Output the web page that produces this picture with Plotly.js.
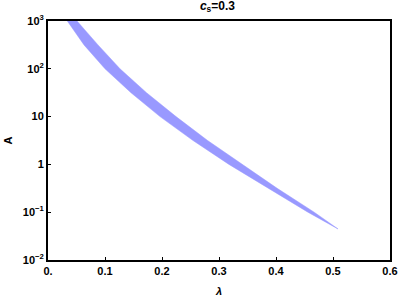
<!DOCTYPE html>
<html>
<head>
<meta charset="utf-8">
<script src="https://cdn.plot.ly/plotly-3.0.1.min.js"></script>
<style>
  html, body { margin: 0; padding: 0; background: #fff; }
  #plot { width: 399px; height: 299px; }
</style>
</head>
<body>
<div id="plot"></div>
<script>
// boundaries of the allowed region
var bandA = [1120, 1000, 316, 100, 31.6, 10, 3.16, 1, 0.316, 0.1, 0.0446];
var lowerLambda = [0.031, 0.0333, 0.0632, 0.100, 0.1456, 0.1965, 0.2544, 0.3175, 0.386, 0.456, 0.5088];
var upperLambda = [0.048, 0.0509, 0.0877, 0.1263, 0.1728, 0.2246, 0.2800, 0.3405, 0.402, 0.467, 0.5088];

var yTickVals = [0.01, 0.1, 1, 10, 100, 1000];
var yTickText = ["10<sup>\u22122</sup>", "10<sup>\u22121</sup>", "1", "10", "10<sup>2</sup>", "10<sup>3</sup>"];
var xTickVals = [0, 0.1, 0.2, 0.3, 0.4, 0.5, 0.6];
var xTickText = ["0.", "0.1", "0.2", "0.3", "0.4", "0.5", "0.6"];

var band = {
    x: upperLambda.concat(lowerLambda.slice().reverse()),
    y: bandA.concat(bandA.slice().reverse()),
    type: "scatter",
    mode: "lines",
    fill: "toself",
    fillcolor: "rgb(153,153,255)",
    line: {color: "rgb(153,153,255)", width: 0.5},
    hoverinfo: "skip",
    showlegend: false
};

var font = {family: "Liberation Sans, Arial, sans-serif", size: 11, color: "#000", weight: "bold"};

var layout = {
    width: 399,
    height: 299,
    margin: {l: 48, r: 9, t: 21, b: 39},
    paper_bgcolor: "#fff",
    plot_bgcolor: "#fff",
    font: font,
    title: {
        text: "<b><i>c</i><sub>s</sub>=0.3</b>",
        x: 0.545, xanchor: "center", y: 0.995, yanchor: "top",
        font: {family: "Liberation Sans, Arial, sans-serif", size: 12, color: "#000"}
    },
    xaxis: {
        range: [0, 0.6],
        tickvals: xTickVals,
        ticktext: xTickText,
        ticks: "inside",
        ticklen: 3,
        tickwidth: 1,
        tickcolor: "#000",
        showgrid: false,
        zeroline: false,
        showline: true,
        linecolor: "#000",
        linewidth: 2,
        mirror: true,
        tickfont: font,
        title: {text: "<b><i>\u03bb</i></b>", font: font, standoff: 11}
    },
    yaxis: {
        type: "log",
        range: [-2, 3],
        tickvals: yTickVals,
        ticktext: yTickText,
        ticks: "inside",
        ticklen: 3,
        tickwidth: 1,
        tickcolor: "#000",
        showgrid: false,
        zeroline: false,
        showline: true,
        linecolor: "#000",
        linewidth: 2,
        mirror: true,
        tickfont: font,
        title: {text: "<b>A</b>", font: font, standoff: 8}
    }
};

Plotly.newPlot("plot", [band], layout, {displayModeBar: false, staticPlot: true});
</script>
</body>
</html>
